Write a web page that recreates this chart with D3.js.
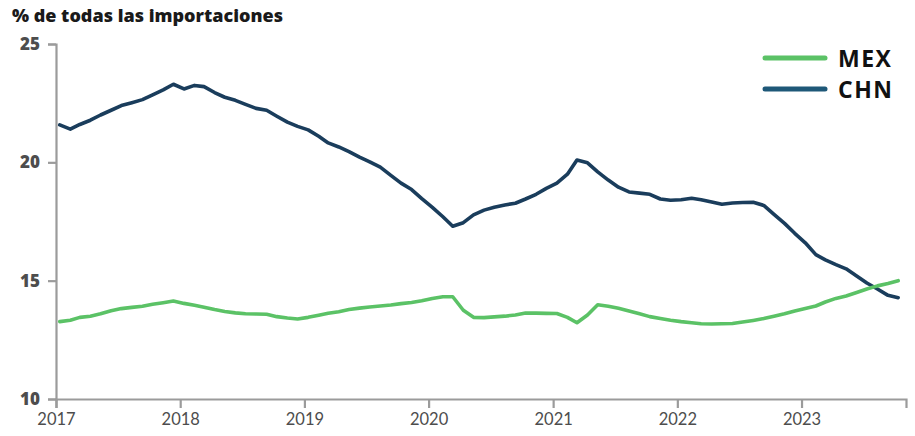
<!DOCTYPE html>
<html>
<head>
<meta charset="utf-8">
<script src="https://cdn.jsdelivr.net/npm/d3@7"></script>
<style>
  body { margin: 0; background: #fff; }
  svg { display: block; font-family: Lato, "Noto Sans", sans-serif; }
</style>
</head>
<body>
<svg id="chart"></svg>
<script>
// monthly shares, Jan 2017 .. Oct 2023
const startYear = 2017;
const mexValues = [
    13.27, 13.33, 13.45, 13.5, 13.6, 13.73, 13.82, 13.87, 13.92, 14.0, 14.07, 14.14,
    14.04, 13.96, 13.88, 13.78, 13.7, 13.64, 13.6, 13.59, 13.58, 13.48, 13.42, 13.38,
    13.45, 13.54, 13.62, 13.69, 13.78, 13.84, 13.89, 13.93, 13.97, 14.03, 14.08, 14.15,
    14.25, 14.32, 14.32, 13.75, 13.45, 13.44, 13.47, 13.5, 13.55, 13.63, 13.63, 13.62,
    13.61, 13.45, 13.22, 13.55, 13.98, 13.92, 13.83, 13.72, 13.6, 13.48, 13.4, 13.33,
    13.27, 13.22, 13.18, 13.17, 13.18, 13.19, 13.25, 13.32, 13.4, 13.5, 13.6, 13.72,
    13.82, 13.93, 14.1, 14.25, 14.35, 14.5, 14.65, 14.78, 14.88, 15.0
];
const chnValues = [
    21.58, 21.4, 21.6, 21.78, 22.0, 22.2, 22.4, 22.52, 22.65, 22.85, 23.06, 23.3,
    23.1, 23.25, 23.2, 22.95, 22.75, 22.62, 22.45, 22.28, 22.2, 21.95, 21.7, 21.52,
    21.37, 21.1, 20.82, 20.65, 20.45, 20.22, 20.02, 19.8, 19.45, 19.12, 18.85, 18.47,
    18.1, 17.7, 17.3, 17.45, 17.78, 17.98, 18.1, 18.2, 18.27, 18.45, 18.65, 18.9,
    19.12, 19.5, 20.1, 19.98, 19.6, 19.25, 18.95, 18.75, 18.7, 18.65, 18.45, 18.4,
    18.42, 18.48, 18.42, 18.32, 18.23, 18.28, 18.3, 18.31, 18.18, 17.8, 17.42, 17.0,
    16.6, 16.1, 15.88, 15.68, 15.5, 15.2, 14.9, 14.65, 14.38, 14.28
];
const seriesNames = ['MEX', 'CHN'];
const seriesColors = ['#5bc266', '#1a3d5c'];
const legendColors = ['#5bc266', '#1e5878'];
const yTicks = [10, 15, 20, 25];
const xTickYears = [2017, 2018, 2019, 2020, 2021, 2022, 2023];
const title = '% de todas las importaciones';

const width = 915, height = 436;
const margin = { top: 44, right: 9, bottom: 37, left: 56 };

const svg = d3.select('#chart')
    .attr('width', width)
    .attr('height', height);

const dates = mexValues.map((d, i) => new Date(startYear, i, 12));
const series = seriesNames.map((name, k) => ({
    name,
    color: seriesColors[k],
    values: (k === 0 ? mexValues : chnValues).map((v, i) => ({ date: dates[i], value: v }))
}));

const x = d3.scaleTime()
    .domain([new Date(2017, 0, 1), new Date(2023, 10, 4)])
    .range([margin.left, width - margin.right]);

const y = d3.scaleLinear()
    .domain([10, 25])
    .range([height - margin.bottom, margin.top]);

// title
svg.append('text')
    .attr('x', 12)
    .attr('y', 22)
    .attr('font-family', '"Open Sans", sans-serif')
    .attr('font-size', '18px')
    .attr('font-weight', 800)
    .attr('fill', '#1a1a1a')
    .text(title);

// axes
const axisColor = '#9b9b9b';

const yAxis = svg.append('g')
    .attr('transform', `translate(${margin.left},0)`)
    .call(d3.axisLeft(y).tickValues(yTicks).tickSize(8).tickPadding(8).tickFormat(d3.format('d')));

const xAxis = svg.append('g')
    .attr('transform', `translate(0,${height - margin.bottom})`)
    .call(d3.axisBottom(x)
        .tickValues(xTickYears.map(yr => new Date(yr, 0, 1)))
        .tickSize(9).tickPadding(5)
        .tickFormat(d3.timeFormat('%Y')));

[yAxis, xAxis].forEach(g => {
    g.select('.domain').attr('stroke', axisColor).attr('stroke-width', 2.2);
    g.selectAll('.tick line').attr('stroke', axisColor).attr('stroke-width', 2.2);
});
yAxis.selectAll('.tick text')
    .attr('fill', '#4d4d4d')
    .attr('font-size', '17px')
    .attr('font-weight', 800)
    .attr('font-family', '"Open Sans", sans-serif');
xAxis.selectAll('.tick text')
    .attr('fill', '#4d4d4d')
    .attr('font-size', '16.5px')
    .attr('font-family', 'Lato, sans-serif');

// lines
const line = d3.line()
    .x(d => x(d.date))
    .y(d => y(d.value));

svg.append('g')
    .selectAll('path')
    .data(series.slice().reverse())
    .join('path')
    .attr('d', d => line(d.values))
    .attr('fill', 'none')
    .attr('stroke', d => d.color)
    .attr('stroke-width', 3.6)
    .attr('stroke-linejoin', 'round')
    .attr('stroke-linecap', 'round');

// legend
const legend = svg.append('g')
    .attr('transform', 'translate(765,58)');

const item = legend.selectAll('g')
    .data(seriesNames)
    .join('g')
    .attr('transform', (d, i) => `translate(0,${i * 31})`);

item.append('line')
    .attr('x1', 0).attr('x2', 60)
    .attr('stroke', (d, i) => legendColors[i])
    .attr('stroke-width', 5)
    .attr('stroke-linecap', 'round');

item.append('text')
    .attr('x', 73)
    .attr('y', 9)
    .attr('font-family', '"Open Sans", sans-serif')
    .attr('font-size', '23px')
    .attr('font-weight', 700)
    .attr('letter-spacing', '1.5px')
    .attr('fill', '#111')
    .text(d => d);
</script>
</body>
</html>
